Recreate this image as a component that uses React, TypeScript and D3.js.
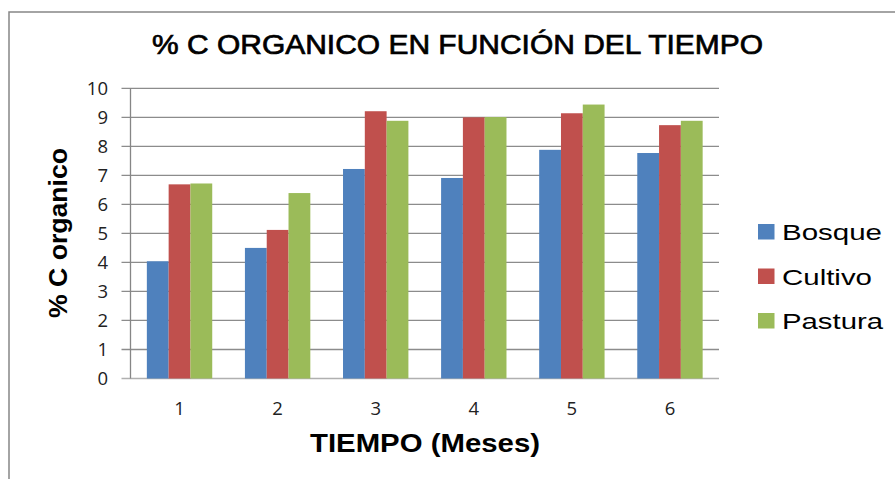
import * as d3 from "d3";
import { useEffect, useRef } from "react";

const meses: string[] = ["1", "2", "3", "4", "5", "6"];
const series: string[] = ["Bosque", "Cultivo", "Pastura"];
const bosque: number[] = [4.04, 4.5, 7.22, 6.91, 7.88, 7.77];
const cultivo: number[] = [6.69, 5.12, 9.21, 9.0, 9.14, 8.73];
const pastura: number[] = [6.72, 6.39, 8.88, 9.01, 9.44, 8.88];
const yTicks: number[] = [0, 1, 2, 3, 4, 5, 6, 7, 8, 9, 10];
const colores: string[] = ["#4F81BD", "#C0504D", "#9BBB59"];

export default function App() {
  const svgRef = useRef<SVGSVGElement | null>(null);

  useEffect(() => {
    const width = 895;
    const height = 479;
    const svg = d3.select(svgRef.current).attr("width", width).attr("height", height);
    svg.selectAll("*").remove();

    const left = 130.5;
    const right = 719;
    const top = 88.3;
    const bottom = 378.5;

    const valores = [bosque, cultivo, pastura];

    // outer border of the chart area
    svg.append("rect")
      .attr("x", 9).attr("y", 12)
      .attr("width", 900).attr("height", 480)
      .attr("fill", "white")
      .attr("stroke", "#868686")
      .attr("stroke-width", 1.5);

    const x = d3.scaleBand<string>().domain(meses).range([left, right])
      .paddingInner(1 / 3).paddingOuter(1 / 6);
    const xs = d3.scaleBand<string>().domain(series).range([0, x.bandwidth()]);
    const y = d3.scaleLinear().domain([0, 10]).range([bottom, top]);

    // gridlines
    svg.append("g")
      .selectAll("line")
      .data(yTicks)
      .enter()
      .append("line")
      .attr("x1", left - 9).attr("x2", right)
      .attr("y1", d => y(d)).attr("y2", d => y(d))
      .attr("stroke", d => (d === 0 ? "#b0b0b0" : "#8c8c8c"))
      .attr("stroke-width", 1.3);

    // y axis line
    svg.append("line")
      .attr("x1", left).attr("x2", left)
      .attr("y1", top).attr("y2", bottom)
      .attr("stroke", "#868686").attr("stroke-width", 1.3);

    // bars
    const grupos = svg.append("g")
      .selectAll("g")
      .data(meses)
      .enter()
      .append("g")
      .attr("transform", d => `translate(${x(d)},0)`);

    grupos.selectAll("rect")
      .data((_, i) => series.map((s, k) => ({ s, v: valores[k][i], k })))
      .enter()
      .append("rect")
      .attr("x", d => xs(d.s) as number)
      .attr("width", xs.bandwidth())
      .attr("y", d => y(d.v))
      .attr("height", d => y(0) - y(d.v))
      .attr("fill", d => colores[d.k]);

    // y tick labels
    svg.append("g")
      .selectAll("text")
      .data(yTicks)
      .enter()
      .append("text")
      .attr("x", 108)
      .attr("y", d => y(d))
      .attr("dy", "0.36em")
      .attr("text-anchor", "end")
      .attr("font-family", "'Open Sans', sans-serif")
      .attr("font-size", 18.5)
      .attr("fill", "#222")
      .text(d => String(d));

    // x tick labels
    svg.append("g")
      .selectAll("text")
      .data(meses)
      .enter()
      .append("text")
      .attr("x", d => (x(d) as number) + x.bandwidth() / 2)
      .attr("y", 415)
      .attr("text-anchor", "middle")
      .attr("font-family", "'Open Sans', sans-serif")
      .attr("font-size", 18.5)
      .attr("fill", "#222")
      .text(d => d);

    // title
    svg.append("text")
      .attr("x", 457.5).attr("y", 54)
      .attr("text-anchor", "middle")
      .attr("font-family", "'Liberation Sans', Arial, sans-serif")
      .attr("font-size", 27)
      .attr("stroke", "black")
      .attr("stroke-width", 0.7)
      .attr("textLength", 611)
      .attr("lengthAdjust", "spacingAndGlyphs")
      .text("% C ORGANICO EN FUNCIÓN DEL TIEMPO");

    // axis titles
    svg.append("text")
      .attr("x", 425).attr("y", 452)
      .attr("text-anchor", "middle")
      .attr("font-family", "'Liberation Sans', Arial, sans-serif")
      .attr("font-weight", "bold")
      .attr("font-size", 25)
      .attr("textLength", 230)
      .attr("lengthAdjust", "spacingAndGlyphs")
      .text("TIEMPO (Meses)");

    svg.append("text")
      .attr("transform", "translate(67,233) rotate(-90)")
      .attr("text-anchor", "middle")
      .attr("font-family", "'Liberation Sans', Arial, sans-serif")
      .attr("font-weight", "bold")
      .attr("font-size", 26)
      .attr("textLength", 170)
      .attr("lengthAdjust", "spacingAndGlyphs")
      .text("% C organico");

    // legend
    const anchos = [100, 90, 101];
    const leyenda = svg.append("g")
      .selectAll("g")
      .data(series)
      .enter()
      .append("g")
      .attr("transform", (_, i) => `translate(758,${224 + i * 44.5})`);

    leyenda.append("rect")
      .attr("width", 16.5).attr("height", 15.5)
      .attr("fill", (_, i) => colores[i]);

    leyenda.append("text")
      .attr("x", 24).attr("y", 16)
      .attr("font-family", "'Liberation Sans', Arial, sans-serif")
      .attr("font-size", 22)
      .attr("textLength", (_, i) => anchos[i])
      .attr("lengthAdjust", "spacingAndGlyphs")
      .text(d => d);
  }, []);

  return (
    <div style={{ position: "absolute", left: 0, top: 0 }}>
      <svg ref={svgRef} style={{ display: "block" }}></svg>
    </div>
  );
}
